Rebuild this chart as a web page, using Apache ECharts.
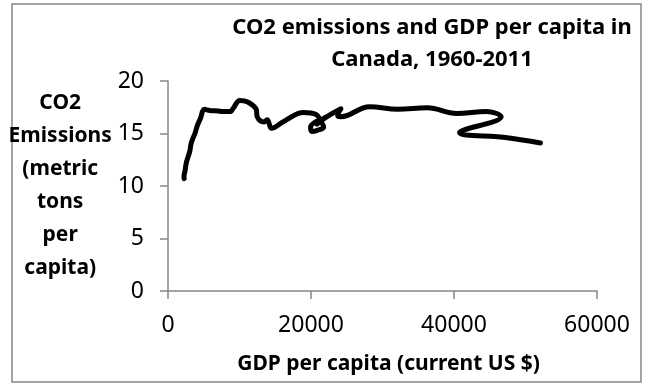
<!DOCTYPE html>
<html>
<head>
<meta charset="utf-8">
<script src="https://cdn.jsdelivr.net/npm/echarts@6/dist/echarts.min.js"></script>
<style>
  html, body { margin: 0; padding: 0; background: #fff; }
  #chart { width: 650px; height: 387px; }
</style>
</head>
<body>
<div id="chart"></div>
<script>
// Canada, 1960-2011: GDP per capita (current US $) and CO2 emissions (metric tons per capita)
const gdpPerCapita = [
  2259, 2240, 2269, 2374, 2555, 2770, 3047, 3217, 3463, 3764,
  4122, 4520, 5090, 5839, 7033, 7511, 8809, 8919, 9124, 10044,
  11135, 12337, 12482, 13425, 13878, 14115, 14462, 16310, 18937, 20716,
  21448, 21768, 20880, 20121, 19935, 20614, 21227, 21903, 20843, 22238,
  24190, 23738, 24168, 28200, 32144, 36266, 40385, 44543, 46595, 40773,
  47450, 52087
];
const co2PerCapita = [
  10.7, 10.8, 11.1, 11.4, 12.2, 12.7, 13.3, 14.0, 14.5, 15.0,
  15.8, 16.4, 17.3, 17.2, 17.15, 17.1, 17.1, 17.2, 17.4, 18.15,
  18.0, 17.3, 16.6, 16.1, 16.3, 16.0, 15.5, 16.2, 17.0, 16.8,
  16.1, 15.6, 15.3, 15.2, 15.6, 16.1, 16.2, 16.5, 15.9, 16.6,
  17.35, 16.7, 16.6, 17.55, 17.3, 17.45, 16.9, 17.1, 16.6, 15.1,
  14.6, 14.1
];
const xTicks = [0, 20000, 40000, 60000];
const yTicks = [0, 5, 10, 15, 20];

const chartTitle = 'CO2 emissions and GDP per capita in\nCanada, 1960-2011';
const xTitle = 'GDP per capita (current US $)';
const yTitle = 'CO2\nEmissions\n(metric\ntons\nper\ncapita)';

const points = gdpPerCapita.map((g, i) => [g, co2PerCapita[i]]);

const FONT = '"Noto Sans", "Open Sans", sans-serif';
const axisGrey = '#868686';

const chart = echarts.init(document.getElementById('chart'), null, { renderer: 'canvas' });
chart.setOption({
  animation: false,
  backgroundColor: '#fff',
  grid: { left: 168, right: 53, top: 81, bottom: 96 },
  xAxis: {
    type: 'value',
    min: xTicks[0],
    max: xTicks[xTicks.length - 1],
    interval: xTicks[1] - xTicks[0],
    name: xTitle,
    nameLocation: 'middle',
    nameGap: 73,
    nameTextStyle: {
      fontFamily: FONT, fontWeight: 'bold', fontSize: 21, color: '#000',
      verticalAlign: 'middle', padding: [0, 0, 0, 12]
    },
    axisLine: { show: true, onZero: false, lineStyle: { color: axisGrey, width: 1.5 } },
    axisTick: { show: true, inside: false, length: 8, lineStyle: { color: axisGrey, width: 1.5 } },
    splitLine: { show: false },
    axisLabel: {
      fontFamily: FONT, fontSize: 23, color: '#000', margin: 23,
      formatter: (v) => String(v)
    }
  },
  yAxis: {
    type: 'value',
    min: yTicks[0],
    max: yTicks[yTicks.length - 1],
    interval: yTicks[1] - yTicks[0],
    name: yTitle,
    nameLocation: 'middle',
    nameRotate: 0,
    nameGap: 96,
    nameTextStyle: {
      fontFamily: FONT, fontWeight: 'bold', fontSize: 21, color: '#000',
      align: 'center', verticalAlign: 'middle', lineHeight: 33
    },
    axisLine: { show: true, onZero: false, lineStyle: { color: axisGrey, width: 1.5 } },
    axisTick: { show: true, inside: false, length: 8, lineStyle: { color: axisGrey, width: 1.5 } },
    splitLine: { show: false },
    axisLabel: { fontFamily: FONT, fontSize: 23, color: '#000', margin: 24 }
  },
  series: [{
    type: 'line',
    data: points,
    showSymbol: false,
    smooth: 0.4,
    lineStyle: { color: '#000', width: 5, cap: 'round', join: 'round' },
    z: 3
  }],
  graphic: [
    {
      type: 'rect',
      shape: { x: 12, y: 4, width: 629, height: 378 },
      style: { fill: 'none', stroke: axisGrey, lineWidth: 1.5 },
      silent: true
    },
    {
      type: 'text',
      x: 432, y: 12,
      style: {
        text: chartTitle,
        font: 'bold 22px ' + FONT,
        fill: '#000',
        align: 'center',
        verticalAlign: 'top',
        lineHeight: 32
      },
      silent: true
    }
  ]
});
</script>
</body>
</html>
